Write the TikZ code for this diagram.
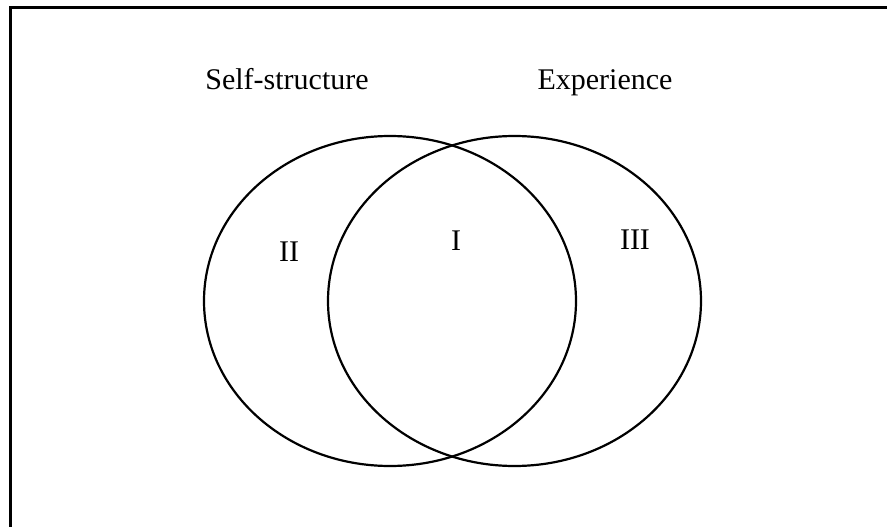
\documentclass[tikz,border=0pt]{standalone}
\usepackage{fontspec}
\setmainfont{Liberation Serif}
\begin{document}
\begin{tikzpicture}[x=1pt,y=-1pt,
  lbl/.style={font=\fontsize{30}{35}\selectfont, anchor=base, inner sep=0pt},
  set/.style={draw=black, line width=2.2pt}]
\useasboundingbox (0,0) rectangle (887,527);
\draw[line width=3pt] (10,540) -- (10,8) -- (900,8);
\draw[set] (390,301) ellipse [x radius=186, y radius=165];
\draw[set] (514.5,301) ellipse [x radius=186.5, y radius=165];
\node[lbl] (self) at (287,89) {Self-structure};
\node[lbl] (exp) at (605,89) {Experience};
\node[lbl] (two) at (289,261) {II};
\node[lbl] (one) at (456,250) {I};
\node[lbl] (three) at (635,249) {III};
\end{tikzpicture}
\end{document}
